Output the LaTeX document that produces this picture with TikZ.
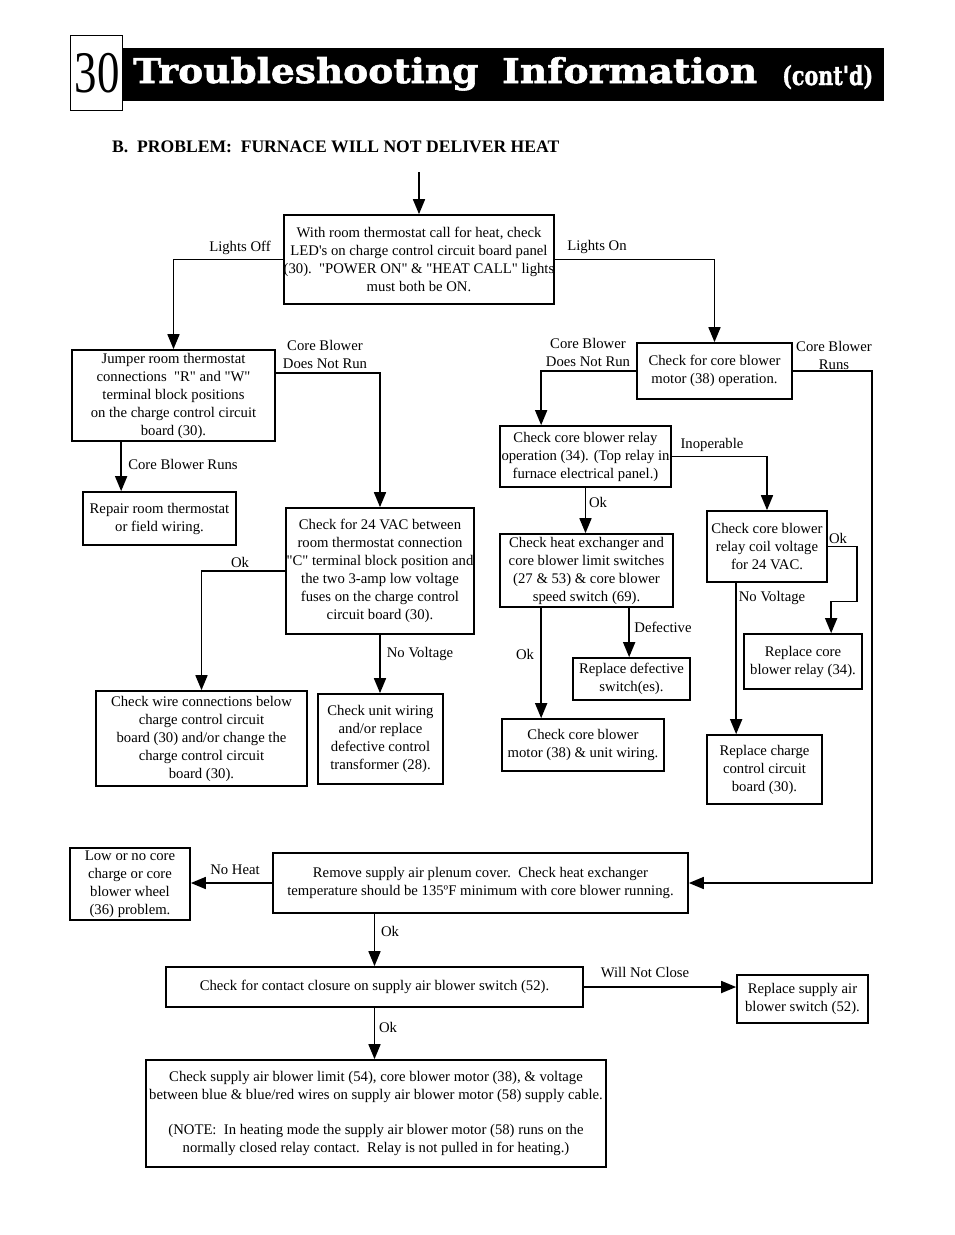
\documentclass[tikz,border=0pt]{standalone}
\usepackage{fontspec}
\setmainfont{Liberation Serif}
\newfontfamily\headfont{DejaVu Serif}[BoldFeatures={FakeBold=1.6}]
\usetikzlibrary{arrows.meta}

\newcommand{\txt}{\fontsize{14.7}{18}\selectfont}
\newcommand{\qt}[1]{\textquotedbl#1\textquotedbl}

\begin{document}
\begin{tikzpicture}[x=1pt,y=-1pt,
  box/.style={draw,line width=1.7pt,align=center,inner sep=0pt,font=\txt},
  lbl/.style={align=center,inner sep=0pt,font=\txt},
  arr/.style={line width=1.7pt,-{Triangle[length=15pt,width=12pt]}}]
\useasboundingbox (0,0) rectangle (954,1235);

% header
\node[fill=black,minimum width=762pt,minimum height=53pt,inner sep=0pt] (bar) at (503,74.5) {};
\node[draw,line width=0.6pt,minimum width=52pt,minimum height=75pt,inner sep=0pt] (numbox) at (96,72.5) {};
\node[anchor=base,inner sep=0pt] (num) at (97,92) {\fontsize{59}{59}\selectfont\scalebox{0.76}[1]{30}};
\node[anchor=base west,inner sep=0pt,text=white] (title1) at (133,83)
  {\headfont\bfseries\resizebox{345pt}{26pt}{Troubleshooting}};
\node[anchor=base west,inner sep=0pt,text=white] (title2) at (502,83)
  {\headfont\bfseries\resizebox{255pt}{26pt}{Information}};
\node[anchor=base west,inner sep=0pt,text=white] (contd) at (782,85)
  {\headfont\bfseries\resizebox{91pt}{20pt}{(cont\textquotesingle d)}};
\node[anchor=base west,inner sep=0pt] (prob) at (112,152)
  {\bfseries\fontsize{17.6}{18}\selectfont B.\ \ PROBLEM:\ \ FURNACE WILL NOT DELIVER HEAT};

% boxes
\node[box,minimum width=270pt,minimum height=89pt] (start) at (419,259.5)
  {With room thermostat call for heat, check\\LED\textquotesingle s on charge control circuit board panel\\(30).\ \ \qt{POWER ON} \& \qt{HEAT CALL} lights\\must both be ON.};
\node[box,minimum width=203pt,minimum height=91pt] (jumper) at (173.5,395.5)
  {Jumper room thermostat\\connections\ \ \qt{R} and \qt{W}\\terminal block positions\\on the charge control circuit\\board (30).};
\node[box,minimum width=153pt,minimum height=53pt] (repair) at (159.5,518.5)
  {Repair room thermostat\\or field wiring.};
\node[box,minimum width=188pt,minimum height=126pt] (vac) at (380,571)
  {Check for 24 VAC between\\room thermostat connection\\\qt{C} terminal block position and\\the two 3-amp low voltage\\fuses on the charge control\\circuit board (30).};
\node[box,minimum width=211pt,minimum height=95pt] (wire) at (201.5,738.5)
  {Check wire connections below\\charge control circuit\\board (30) and/or change the\\charge control circuit\\board (30).};
\node[box,minimum width=125pt,minimum height=90pt] (unit) at (380.5,739)
  {Check unit wiring\\and/or replace\\defective control\\transformer (28).};
\node[box,minimum width=155pt,minimum height=56pt] (motor) at (714.5,371)
  {Check for core blower\\motor (38) operation.};
\node[box,minimum width=171pt,minimum height=61pt] (relay) at (585.5,456.5)
  {Check core blower relay\\operation (34). (Top relay in\\furnace electrical panel.)};
\node[box,minimum width=173pt,minimum height=73pt] (heat) at (586.5,570.5)
  {Check heat exchanger and\\core blower limit switches\\(27 \& 53) \& core blower\\speed switch (69).};
\node[box,minimum width=117pt,minimum height=42pt] (defsw) at (631.5,679)
  {Replace defective\\switch(es).};
\node[box,minimum width=162pt,minimum height=52pt] (coremotor) at (583,745)
  {Check core blower\\motor (38) \& unit wiring.};
\node[box,minimum width=120pt,minimum height=71pt] (coil) at (767,546.5)
  {Check core blower\\relay coil voltage\\for 24 VAC.};
\node[box,minimum width=118pt,minimum height=55pt] (newrelay) at (803,661.5)
  {Replace core\\blower relay (34).};
\node[box,minimum width=115pt,minimum height=69pt] (charge) at (764.5,769.5)
  {Replace charge\\control circuit\\board (30).};
\node[box,minimum width=415pt,minimum height=60pt] (plenum) at (480.5,883)
  {Remove supply air plenum cover.\ \ Check heat exchanger\\temperature should be 135ºF minimum with core blower running.};
\node[box,minimum width=120pt,minimum height=72pt] (low) at (130,884)
  {Low or no core\\charge or core\\blower wheel\\(36) problem.};
\node[box,minimum width=417pt,minimum height=40pt] (contact) at (374.5,987)
  {Check for contact closure on supply air blower switch (52).};
\node[box,minimum width=131pt,minimum height=48pt] (supply) at (802.5,999)
  {Replace supply air\\blower switch (52).};
\node[box,minimum width=460pt,minimum height=107pt] (final) at (376,1113.5)
  {Check supply air blower limit (54), core blower motor (38), \& voltage\\between blue \& blue/red wires on supply air blower motor (58) supply cable.\\[17pt]
   (NOTE:\ \ In heating mode the supply air blower motor (58) runs on the\\normally closed relay contact.\ \ Relay is not pulled in for heating.)};

% labels
\node[lbl] (loff) at (240,248) {Lights Off};
\node[lbl] (lon) at (597,247) {Lights On};
\node[lbl] (cbnr1) at (325,354) {Core Blower\\Does Not Run};
\node[lbl] (cbr1) at (183,464) {Core Blower Runs};
\node[lbl] (ok1) at (240,562) {Ok};
\node[lbl] (nv1) at (420,654) {No Voltage};
\node[lbl] (cbnr2) at (588,352) {Core Blower\\Does Not Run};
\node[lbl] (cbr2) at (834,355) {Core Blower\\Runs};
\node[lbl] (inop) at (712,445) {Inoperable};
\node[lbl] (ok2) at (598,502) {Ok};
\node[lbl] (ok3) at (525,654) {Ok};
\node[lbl] (defect) at (663,627) {Defective};
\node[lbl] (ok4) at (838,538) {Ok};
\node[lbl] (nv2) at (772,598) {No Voltage};
\node[lbl] (noheat) at (235,870) {No Heat};
\node[lbl] (ok5) at (390,931) {Ok};
\node[lbl] (wnc) at (645,972) {Will Not Close};
\node[lbl] (ok6) at (388,1027) {Ok};

% connectors
\coordinate (in) at (419,172);
\coordinate (runs) at (872,883);
\draw[arr] (in) -- (start.north);
\draw[arr] (start.west) -| (jumper.north);
\draw[arr] (start.east) -| (motor.north);
\draw[arr] ([xshift=50pt]jumper.south west) -- ([xshift=50pt]jumper.south west |- repair.north);
\draw[arr] ([yshift=22.5pt]jumper.east) -| (vac.north);
\draw[arr] (vac.west) -| (wire.north);
\draw[arr] (vac.south) -- (vac.south |- unit.north);
\draw[arr] (motor.west) -| ([xshift=42pt]relay.north west);
\draw[arr] (motor.east) -| (runs) -- (plenum.east);
\draw[arr] (relay.east) -| (coil.north);
\draw[arr] (relay.south) -- (relay.south |- heat.north);
\draw[arr] ([xshift=42pt]heat.south west) -- ([xshift=42pt]heat.south west |- coremotor.north);
\draw[arr] ([xshift=130pt]heat.south west) -- ([xshift=130pt]heat.south west |- defsw.north);
\draw[arr] (coil.east) -- ++(29,0) -- ++(0,55) -| ([xshift=88pt]newrelay.north west);
\draw[arr] ([xshift=30pt]coil.south west) -- ([xshift=30pt]coil.south west |- charge.north);
\draw[arr] (plenum.west) -- (plenum.west -| low.east);
\draw[arr] (contact.north |- plenum.south) -- (contact.north);
\draw[arr] (contact.east) -- (contact.east -| supply.west);
\draw[arr] (contact.south) -- (contact.south |- final.north);
\end{tikzpicture}
\end{document}
